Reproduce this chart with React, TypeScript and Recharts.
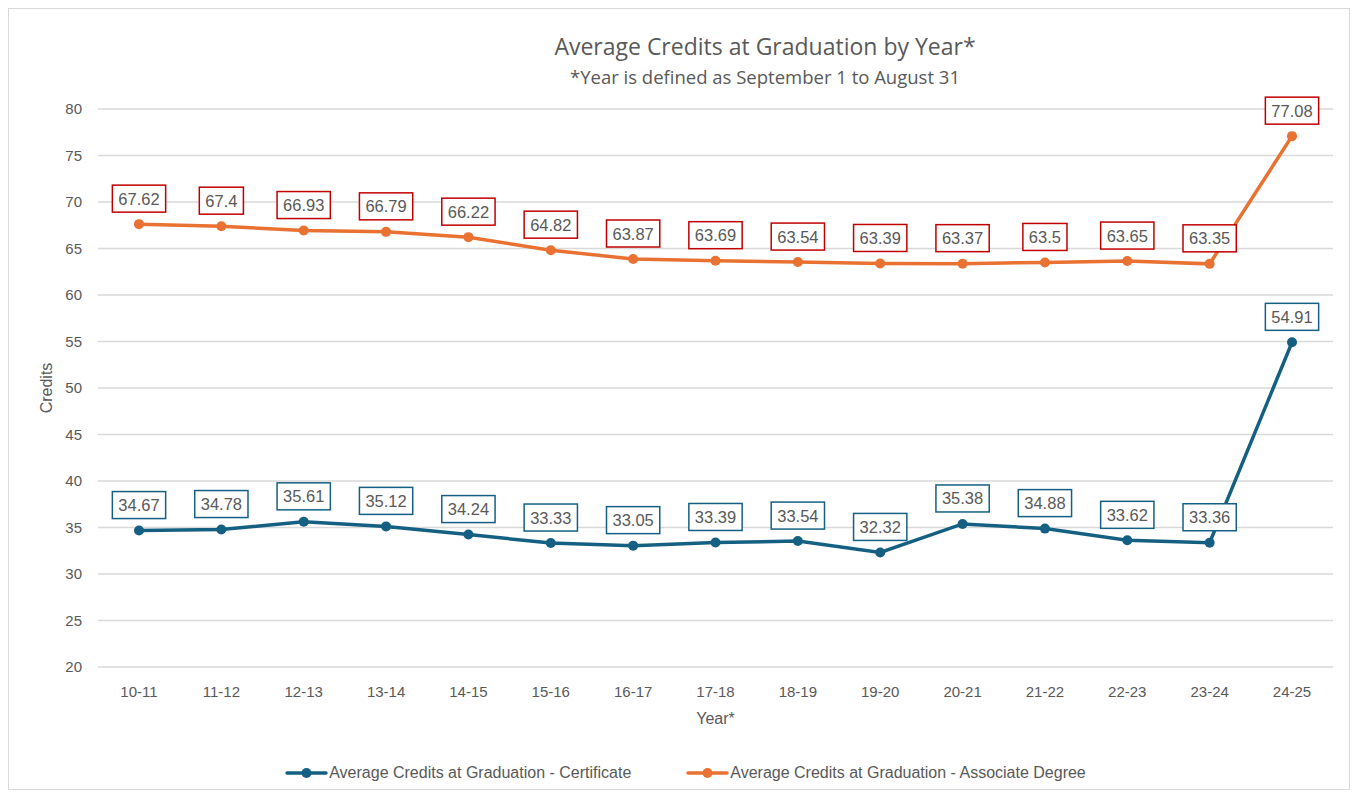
import React from 'react';
import { LineChart, Line, XAxis, YAxis, CartesianGrid, Legend, LabelList, Label } from 'recharts';

const years = ['10-11', '11-12', '12-13', '13-14', '14-15', '15-16', '16-17', '17-18', '18-19', '19-20', '20-21', '21-22', '22-23', '23-24', '24-25'];
const certificate = [34.67, 34.78, 35.61, 35.12, 34.24, 33.33, 33.05, 33.39, 33.54, 32.32, 35.38, 34.88, 33.62, 33.36, 54.91];
const associate = [67.62, 67.4, 66.93, 66.79, 66.22, 64.82, 63.87, 63.69, 63.54, 63.39, 63.37, 63.5, 63.65, 63.35, 77.08];
const yTicks = [20, 25, 30, 35, 40, 45, 50, 55, 60, 65, 70, 75, 80];

const data = years.map((y, i) => ({ year: y, cert: certificate[i], assoc: associate[i] }));

const BLUE = '#156082';
const ORANGE = '#E97132';
const TEXT = '#595959';
const FONT = '"Liberation Sans", Arial, sans-serif';
const LABEL_FS = 16.5;

const textWidth = (s: string) => {
  let w = 0;
  for (const c of s) w += c === '.' ? 0.278 : 0.556;
  return w * LABEL_FS;
};

const makeLabel = (border: string) => (props: any) => {
  const { x, y, value } = props;
  if (x == null || y == null) return null;
  const s = String(value);
  const w = textWidth(s) + 12;
  const h = 27;
  return (
    <g>
      <rect x={x - w / 2} y={y - 12 - h} width={w} height={h} fill="#fff" stroke={border} strokeWidth={1.5} />
      <text x={x} y={y - 19.5} textAnchor="middle" fontSize={LABEL_FS} fill={TEXT} fontFamily={FONT}>{s}</text>
    </g>
  );
};

const LegendContent = () => {
  const items = [
    { name: 'Average Credits at Graduation - Certificate', color: BLUE },
    { name: 'Average Credits at Graduation - Associate Degree', color: ORANGE },
  ];
  return (
    <div style={{ display: 'flex', justifyContent: 'center', gap: 55, fontFamily: '"Liberation Sans Narrow", "Liberation Sans", sans-serif', fontSize: 16, color: TEXT }}>
      {items.map((it) => (
        <div key={it.name} style={{ display: 'flex', alignItems: 'center' }}>
          <svg width={43} height={12} style={{ marginRight: 1 }}>
            <line x1={2} y1={6} x2={41} y2={6} stroke={it.color} strokeWidth={3.5} strokeLinecap="round" />
            <circle cx={21.5} cy={6} r={5} fill={it.color} />
          </svg>
          <span>{it.name}</span>
        </div>
      ))}
    </div>
  );
};

export default function App() {
  return (
    <div style={{ position: 'relative', width: 1340, height: 780, border: '1px solid #d9d9d9', background: '#fff', fontFamily: FONT }}>
      <div style={{ position: 'absolute', top: 21, left: 0, width: '100%', textAlign: 'center', color: TEXT, fontSize: 23, fontFamily: '"Open Sans", sans-serif', paddingLeft: 172, boxSizing: 'border-box' }}>
        Average Credits at Graduation by Year*
      </div>
      <div style={{ position: 'absolute', top: 55, left: 0, width: '100%', textAlign: 'center', color: TEXT, fontSize: 18.5, fontFamily: '"Open Sans", sans-serif', paddingLeft: 172, boxSizing: 'border-box' }}>
        *Year is defined as September 1 to August 31
      </div>
      <LineChart width={1340} height={780} data={data} margin={{ top: 100, right: 16, bottom: 24, left: 29 }}>
        <CartesianGrid vertical={false} stroke="#d9d9d9" strokeWidth={1.3} />
        <XAxis dataKey="year" axisLine={false} tickLine={false} height={80} padding={{ left: 41, right: 41 }} tick={{ fill: TEXT, fontSize: 15, fontFamily: FONT }} tickMargin={13}>
          <Label value="Year*" position="insideTop" offset={46} fill={TEXT} fontSize={16} fontFamily={FONT} />
        </XAxis>
        <YAxis domain={[20, 80]} ticks={yTicks} axisLine={false} tickLine={false} width={60} tick={{ fill: TEXT, fontSize: 15, fontFamily: FONT }} tickMargin={10}>
          <Label value="Credits" angle={-90} position="insideLeft" offset={8} fill={TEXT} fontSize={16} fontFamily={FONT} style={{ textAnchor: 'middle' }} />
        </YAxis>
        <Legend verticalAlign="bottom" content={<LegendContent />} wrapperStyle={{ bottom: 7 }} />
        <Line type="linear" dataKey="cert" name="Average Credits at Graduation - Certificate" stroke={BLUE} strokeWidth={3.5} dot={{ r: 5, fill: BLUE, stroke: BLUE, strokeWidth: 0 }} isAnimationActive={false}>
          <LabelList dataKey="cert" content={makeLabel(BLUE)} />
        </Line>
        <Line type="linear" dataKey="assoc" name="Average Credits at Graduation - Associate Degree" stroke={ORANGE} strokeWidth={3.5} dot={{ r: 5, fill: ORANGE, stroke: ORANGE, strokeWidth: 0 }} isAnimationActive={false}>
          <LabelList dataKey="assoc" content={makeLabel('#C00000')} />
        </Line>
      </LineChart>
    </div>
  );
}
